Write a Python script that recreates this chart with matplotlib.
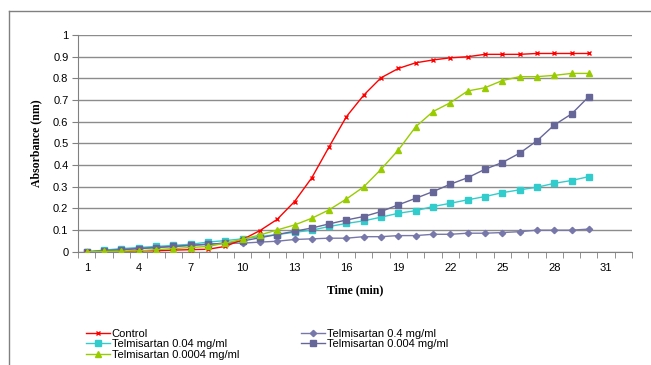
import numpy as np
import matplotlib
matplotlib.use('Agg')
import matplotlib.pyplot as plt
from matplotlib.lines import Line2D

# time points (min), category axis with 32 slots
TIME = list(range(1, 31))
X_LABELS = [1, 4, 7, 10, 13, 16, 19, 22, 25, 28, 31]

CONTROL = [0.0, 0.0, 0.0, 0.005, 0.005, 0.008, 0.01, 0.012, 0.025, 0.057,
           0.098, 0.15, 0.232, 0.342, 0.485, 0.624, 0.723, 0.803, 0.846, 0.872,
           0.885, 0.895, 0.90, 0.911, 0.911, 0.911, 0.915, 0.915, 0.915, 0.915]
T_04 = [0.0, 0.005, 0.01, 0.015, 0.02, 0.025, 0.03, 0.035, 0.04, 0.04,
        0.045, 0.049, 0.057, 0.06, 0.063, 0.063, 0.07, 0.07, 0.075, 0.075,
        0.081, 0.081, 0.086, 0.086, 0.089, 0.093, 0.10, 0.10, 0.10, 0.105]
T_004 = [0.0, 0.008, 0.015, 0.02, 0.025, 0.03, 0.035, 0.045, 0.052, 0.06,
         0.07, 0.08, 0.09, 0.10, 0.117, 0.131, 0.143, 0.16, 0.178, 0.19,
         0.209, 0.224, 0.24, 0.255, 0.273, 0.286, 0.298, 0.316, 0.329, 0.347]
T_0004 = [0.0, 0.005, 0.01, 0.015, 0.02, 0.025, 0.03, 0.035, 0.04, 0.05,
          0.065, 0.08, 0.095, 0.11, 0.129, 0.147, 0.163, 0.186, 0.217, 0.247,
          0.278, 0.312, 0.342, 0.381, 0.412, 0.455, 0.512, 0.585, 0.636, 0.716]
T_00004 = [0.0, 0.002, 0.003, 0.005, 0.01, 0.015, 0.02, 0.025, 0.04, 0.058,
           0.078, 0.101, 0.124, 0.155, 0.194, 0.244, 0.30, 0.381, 0.47, 0.577,
           0.647, 0.688, 0.742, 0.757, 0.79, 0.808, 0.808, 0.814, 0.823, 0.823]

RED = '#FF0000'
CYAN = '#33CCCC'
GREEN = '#99CC00'
PURPLE = '#666699'
PURPLE_L = '#7777AA'

plt.rcParams.update({
    'font.family': 'Liberation Sans',
    'font.size': 8,
})

fig = plt.figure(figsize=(6.51, 3.65), dpi=100)
ax = fig.add_axes([0.12, 0.31, 0.851, 0.594])

# outer chart border (cut off at right/bottom)
fig.add_artist(Line2D([9 / 651, 9 / 651], [0, 1 - 11 / 365],
                      transform=fig.transFigure, color='#808080', lw=1))
fig.add_artist(Line2D([9 / 651, 1], [1 - 11 / 365, 1 - 11 / 365],
                      transform=fig.transFigure, color='#808080', lw=1))

ax.plot(TIME, CONTROL, color=RED, lw=1, marker='x', ms=3.5, mew=1,
        label='Control', zorder=3)
ax.plot(TIME, T_004, color=CYAN, lw=1, marker='s', ms=4,
        label='Telmisartan 0.04 mg/ml', zorder=2)
ax.plot(TIME, T_00004, color=GREEN, lw=1, marker='^', ms=4.5,
        label='Telmisartan 0.0004 mg/ml', zorder=3)
ax.plot(TIME, T_04, color=PURPLE_L, lw=1, marker='D', ms=3.2,
        label='Telmisartan 0.4 mg/ml', zorder=2)
ax.plot(TIME, T_0004, color=PURPLE, lw=1, marker='s', ms=4,
        label='Telmisartan 0.004 mg/ml', zorder=2)

ax.set_xlim(0.5, 32.5)
ax.set_ylim(0, 1)
ax.set_yticks(np.arange(0, 1.01, 0.1))
ax.set_yticklabels(['0'] + [f'{v:.1f}' for v in np.arange(0.1, 0.95, 0.1)] + ['1'])
ax.set_xticks(X_LABELS)
ax.set_xticklabels([str(v) for v in X_LABELS])
ax.set_xticks(np.arange(0.5, 33, 1), minor=True)
ax.tick_params(axis='x', which='major', length=0, pad=8)
ax.tick_params(axis='x', which='minor', length=4, color='#808080', direction='out')
ax.tick_params(axis='y', length=4, color='#808080', direction='out', pad=3)

ax.grid(True, axis='y', color='#8C8C8C', lw=1)
ax.set_axisbelow(True)
for s in ['top', 'right']:
    ax.spines[s].set_visible(False)
for s in ['left', 'bottom']:
    ax.spines[s].set_color('#808080')

ax.set_xlabel('Time (min)', family='Liberation Serif', fontweight='bold',
              fontsize=8.5, labelpad=8)
ax.set_ylabel('Absorbance (nm)', family='Liberation Serif', fontweight='bold',
              fontsize=8.5, labelpad=8)

fig.legend(loc='upper left', bbox_to_anchor=(0.124, 0.115), ncol=2,
           frameon=False, fontsize=8, handlelength=2.1, handletextpad=0.2,
           labelspacing=0.05, columnspacing=5.6, borderpad=0)

fig.savefig('out.png', dpi=100)
plt.close(fig)
